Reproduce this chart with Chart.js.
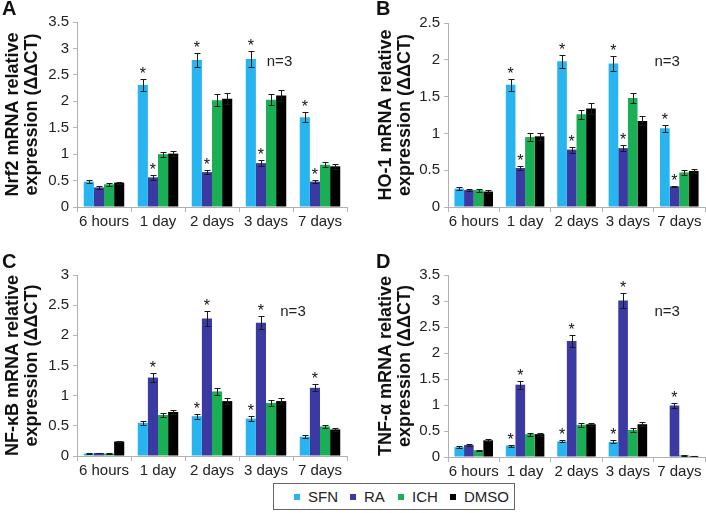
<!DOCTYPE html>
<html>
<head>
<meta charset="utf-8">
<script src="https://cdn.jsdelivr.net/npm/chart.js@4.4.1/dist/chart.umd.min.js"></script>
<style>
  body { margin: 0; background: #fff; font-family: "Liberation Sans", Arial, sans-serif; }
  #wrap { position: relative; width: 706px; height: 513px; overflow: hidden; }
  canvas { position: absolute; }
  .letter { position: absolute; font-weight: bold; font-size: 20px; color: #111; line-height: 1; }
  #legend { position: absolute; left: 273px; top: 483px; width: 240px; height: 25px; border: 1px solid #666;
            display: flex; align-items: center; font-size: 15px; color: #222; }
  #legend span.item { display: flex; align-items: center; position: absolute; }
  #legend i { display: inline-block; width: 6px; height: 6px; margin-right: 8px; }
</style>
</head>
<body>
<div id="wrap">
  <canvas id="chartA" width="353" height="240" style="left:0;top:0"></canvas>
  <canvas id="chartB" width="353" height="240" style="left:353px;top:0"></canvas>
  <canvas id="chartC" width="353" height="240" style="left:0;top:240px"></canvas>
  <canvas id="chartD" width="353" height="240" style="left:353px;top:240px"></canvas>
  <div class="letter" style="left:2px;top:-2px">A</div>
  <div class="letter" style="left:376px;top:-2px">B</div>
  <div class="letter" style="left:2px;top:251px">C</div>
  <div class="letter" style="left:376px;top:251px">D</div>
  <div id="legend"></div>
</div>
<script>
const categories = ['6 hours', '1 day', '2 days', '3 days', '7 days'];
const seriesNames = ['SFN', 'RA', 'ICH', 'DMSO'];
const seriesColors = ['#27b4ef', '#3a3aa2', '#1aae55', '#000000'];

// rows: SFN, RA, ICH, DMSO
const nrf2Values = [
  [0.48, 2.31, 2.78, 2.80, 1.70],
  [0.37, 0.56, 0.66, 0.83, 0.48],
  [0.43, 1.00, 2.02, 2.03, 0.80],
  [0.46, 1.01, 2.05, 2.11, 0.77]
];
const nrf2Errors = [
  [0.03, 0.12, 0.14, 0.15, 0.09],
  [0.03, 0.04, 0.04, 0.05, 0.03],
  [0.03, 0.05, 0.11, 0.10, 0.05],
  [0.02, 0.05, 0.10, 0.11, 0.05]
];
const nrf2Stars = [
  [0, 1, 1, 1, 1],
  [0, 1, 1, 1, 1],
  [0, 0, 0, 0, 0],
  [0, 0, 0, 0, 0]
];

const ho1Values = [
  [0.25, 1.66, 1.98, 1.95, 1.07],
  [0.23, 0.53, 0.78, 0.80, 0.28],
  [0.23, 0.95, 1.26, 1.48, 0.47],
  [0.21, 0.96, 1.34, 1.17, 0.49]
];
const ho1Errors = [
  [0.02, 0.08, 0.09, 0.10, 0.05],
  [0.01, 0.03, 0.04, 0.04, 0.01],
  [0.02, 0.05, 0.06, 0.07, 0.03],
  [0.02, 0.05, 0.07, 0.06, 0.03]
];
const ho1Stars = [
  [0, 1, 1, 1, 1],
  [0, 1, 1, 1, 1],
  [0, 0, 0, 0, 0],
  [0, 0, 0, 0, 0]
];

const nfkbValues = [
  [0.04, 0.55, 0.66, 0.62, 0.32],
  [0.05, 1.30, 2.28, 2.21, 1.13],
  [0.04, 0.68, 1.07, 0.88, 0.49],
  [0.24, 0.73, 0.91, 0.91, 0.44]
];
const nfkbErrors = [
  [0.005, 0.03, 0.04, 0.04, 0.02],
  [0.005, 0.07, 0.12, 0.11, 0.06],
  [0.005, 0.04, 0.06, 0.05, 0.03],
  [0.01, 0.04, 0.05, 0.05, 0.03]
];
const nfkbStars = [
  [0, 0, 1, 1, 0],
  [0, 1, 1, 1, 1],
  [0, 0, 0, 0, 0],
  [0, 0, 0, 0, 0]
];

const tnfValues = [
  [0.19, 0.22, 0.30, 0.29, null],
  [0.23, 1.39, 2.23, 3.01, 0.99],
  [0.13, 0.44, 0.62, 0.52, 0.03],
  [0.32, 0.44, 0.63, 0.63, 0.02]
];
const tnfErrors = [
  [0.02, 0.02, 0.02, 0.03, 0],
  [0.02, 0.08, 0.12, 0.15, 0.05],
  [0.01, 0.03, 0.04, 0.03, 0.01],
  [0.02, 0.03, 0.03, 0.04, 0.005]
];
const tnfStars = [
  [0, 1, 1, 1, 0],
  [0, 1, 1, 1, 1],
  [0, 0, 0, 0, 0],
  [0, 0, 0, 0, 0]
];

const FONT = '"Liberation Sans", Arial, sans-serif';

// error bars, asterisks and the n=3 note
const errorBars = {
  id: 'errorBars',
  afterDatasetsDraw(chart, args, opts) {
    const { ctx, chartArea: ca } = chart;
    const y = chart.scales.y;
    ctx.save();
    ctx.strokeStyle = '#1a1a1a';
    ctx.lineWidth = 1;
    ctx.fillStyle = '#111';
    ctx.textAlign = 'center';
    ctx.textBaseline = 'alphabetic';
    ctx.font = '16px ' + FONT;
    chart.data.datasets.forEach((ds, i) => {
      chart.getDatasetMeta(i).data.forEach((bar, j) => {
        const v = ds.data[j];
        if (v == null) return;
        const e = ds.errors[j];
        const top = Math.round(y.getPixelForValue(v + e)) + 0.5;
        const bot = Math.round(y.getPixelForValue(Math.max(0, v - e))) + 0.5;
        const x = Math.round(bar.x) + 0.5;
        ctx.beginPath();
        ctx.moveTo(x, top); ctx.lineTo(x, bot);
        ctx.moveTo(x - 3, top); ctx.lineTo(x + 3, top);
        ctx.moveTo(x - 3, bot); ctx.lineTo(x + 3, bot);
        ctx.stroke();
        if (ds.stars[j]) ctx.fillText('*', bar.x, top - 1);
      });
    });
    ctx.font = '15px ' + FONT;
    ctx.textBaseline = 'middle';
    ctx.fillStyle = '#222';
    ctx.fillText('n=3', ca.left + opts.nx * ca.width, ca.top + opts.ny * ca.height);
    ctx.restore();
  }
};

function makePanel(id, values, errors, stars, yMax, title, lay) {
  new Chart(document.getElementById(id), {
    type: 'bar',
    data: {
      labels: categories,
      datasets: seriesNames.map((name, i) => ({
        label: name,
        data: values[i],
        errors: errors[i],
        stars: stars[i],
        backgroundColor: seriesColors[i],
        borderWidth: 0,
        categoryPercentage: 0.75,
        barPercentage: 1.0
      }))
    },
    options: {
      responsive: false,
      animation: false,
      layout: { padding: { top: lay.top, right: lay.right, bottom: 0, left: 0 } },
      plugins: {
        legend: { display: false },
        tooltip: { enabled: false },
        errorBars: { nx: lay.nx, ny: lay.ny }
      },
      scales: {
        x: {
          grid: { drawOnChartArea: false, tickLength: 5, color: '#b5b5b5', offset: true },
          border: { color: '#b0b0b0' },
          ticks: { color: '#222', font: { size: 15, family: FONT }, padding: 1, maxRotation: 0, autoSkip: false },
          afterFit(s) { s.height = lay.xh; }
        },
        y: {
          min: 0,
          max: yMax,
          ticks: {
            stepSize: 0.5, color: '#222', font: { size: 15, family: FONT }, padding: 4,
            callback: v => String(Number(v.toFixed(1)))
          },
          grid: { drawOnChartArea: false, tickLength: 4, color: '#b5b5b5' },
          border: { color: '#b0b0b0' },
          title: {
            display: true,
            text: title,
            color: '#111',
            font: { size: 18, weight: 'bold', family: FONT, lineHeight: 1.05 },
            padding: { top: lay.tp, bottom: 0 }
          },
          afterFit(s) { s.width = lay.yw; }
        }
      }
    },
    plugins: [errorBars]
  });
}

makePanel('chartA', nrf2Values, nrf2Errors, nrf2Stars, 3.5,
  ['Nrf2 mRNA relative', 'expression (ΔΔCT)'],
  { top: 22, right: 6, xh: 33, yw: 77, tp: 4, nx: 0.75, ny: 0.216 });
makePanel('chartB', ho1Values, ho1Errors, ho1Stars, 2.5,
  ['HO-1 mRNA relative', 'expression (ΔΔCT)'],
  { top: 23, right: 1, xh: 33, yw: 95, tp: 24, nx: 0.853, ny: 0.21 });
makePanel('chartC', nfkbValues, nfkbErrors, nfkbStars, 3,
  ['NF-κB mRNA relative', 'expression (ΔΔCT)'],
  { top: 35, right: 6, xh: 24, yw: 77, tp: 4, nx: 0.80, ny: 0.204 });
makePanel('chartD', tnfValues, tnfErrors, tnfStars, 3.5,
  ['TNF-α mRNA relative', 'expression (ΔΔCT)'],
  { top: 35, right: 1, xh: 23, yw: 95, tp: 24, nx: 0.853, ny: 0.203 });

// legend box
const legend = document.getElementById('legend');
const legendX = [20, 76, 124, 176];
seriesNames.forEach((name, i) => {
  const item = document.createElement('span');
  item.className = 'item';
  item.style.left = legendX[i] + 'px';
  item.innerHTML = '<i style="background:' + seriesColors[i] + '"></i>' + name;
  legend.appendChild(item);
});
</script>
</body>
</html>
